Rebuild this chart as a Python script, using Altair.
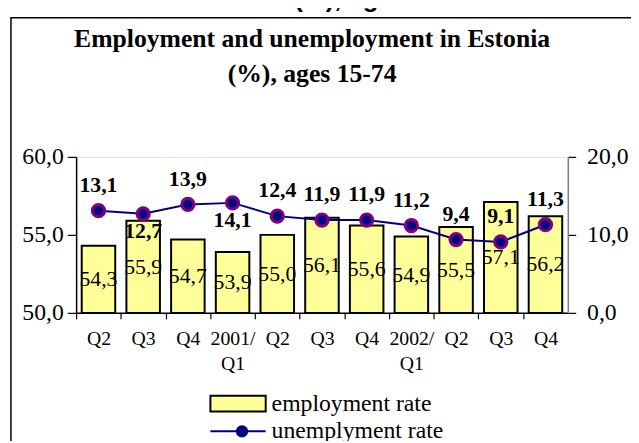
import altair as alt
import pandas as pd

# ---- data ----
quarter_labels = ["Q2", "Q3", "Q4", "2001/|Q1", "Q2", "Q3", "Q4", "2002/|Q1", "Q2", "Q3", "Q4"]
employment = [54.3, 55.9, 54.7, 53.9, 55.0, 56.1, 55.6, 54.9, 55.5, 57.1, 56.2]
unemployment = [13.1, 12.7, 13.9, 14.1, 12.4, 11.9, 11.9, 11.2, 9.4, 9.1, 11.3]
emp_name = "employment rate"
unemp_name = "unemplyment rate"
title_lines = ["Employment and unemployment in Estonia", "(%), ages 15-74"]
left_ticks = [50, 55, 60]
right_ticks = [0, 10, 20]
left_min = 50

df = pd.DataFrame({
    "i": list(range(len(quarter_labels))),
    "emp": employment,
    "unemp": unemployment,
    "emp_name": emp_name,
    "unemp_name": unemp_name,
    "marker_name": " ",
})
df["emp_lbl"] = [f"{v:.1f}".replace(".", ",") for v in employment]
df["unemp_lbl"] = [f"{v:.1f}".replace(".", ",") for v in unemployment]

SERIF = "Liberation Serif, Times New Roman, Times, serif"
SANS = "Liberation Sans, Arial, sans-serif"
W, H = 498, 158
step = W / len(quarter_labels)

label_arr = "[" + ",".join(f"'{s}'" for s in quarter_labels) + "]"

x_enc = alt.X(
    "i:O",
    scale=alt.Scale(paddingInner=0.25, paddingOuter=0.125),
    axis=alt.Axis(
        title=None, labelAngle=0, labelFont=SERIF, labelFontSize=20, labelColor="black",
        labelLineHeight=25, labelPadding=10, labelExpr=f"split({label_arr}[datum.value], '|')",
        tickOffset=-step / 2, labelOffset=step / 2, tickSize=6, tickColor="black", tickWidth=1.2,
        domainColor="black", domainWidth=1.5, grid=False,
    ),
)

fmt = "replace(format(datum.value, '.1f'), '.', ',')"

left_scale = alt.Scale(domain=[50, 60], zero=False, nice=False)
right_scale = alt.Scale(domain=[0, 20], zero=True, nice=False)

base = alt.Chart(df).encode(x=x_enc)

bars = base.mark_bar(stroke="black", strokeWidth=2).encode(
    y=alt.Y("emp:Q", scale=left_scale, axis=alt.Axis(
        title=None, values=left_ticks, labelExpr=fmt, labelFont=SERIF, labelFontSize=24,
        labelColor="black", tickSize=9, tickColor="black", tickWidth=1.2, labelPadding=4,
        domainColor="black", domainWidth=1.5, grid=False)),
    y2=alt.datum(left_min),
    fill=alt.Fill("emp_name:N", scale=alt.Scale(domain=[emp_name], range=["#ffff99"]),
                  legend=alt.Legend(title=None, orient="none", legendX=135, legendY=221,
                                    symbolType="M-1,-0.286H1V0.286H-1Z", symbolSize=3136,
                                    symbolStrokeColor="black", symbolStrokeWidth=2,
                                    labelFont=SERIF, labelFontSize=24, labelColor="black",
                                    labelLimit=0, labelOffset=5, padding=0)),
)

bar_text = base.mark_text(font=SERIF, fontSize=22, color="black", baseline="middle").encode(
    y=alt.Y("emp_mid:Q", scale=left_scale), text="emp_lbl:N"
).transform_calculate(emp_mid=f"(datum.emp + {left_min}) / 2")

left = alt.layer(bars, bar_text)

line = base.mark_line(strokeWidth=2).encode(
    y=alt.Y("unemp:Q", scale=right_scale, axis=alt.Axis(
        orient="right", title=None, values=right_ticks, labelExpr=fmt, labelFont=SERIF,
        labelFontSize=24, labelColor="black", tickSize=8, tickColor="black", tickWidth=1.2,
        labelPadding=11, domainColor="#808080", domainWidth=1.5, grid=False)),
    stroke=alt.Stroke("unemp_name:N", scale=alt.Scale(domain=[unemp_name], range=["#000080"]),
                      legend=alt.Legend(title=None, orient="none", legendX=135, legendY=249,
                                        symbolType="M-1,0H1", symbolSize=3136, symbolStrokeWidth=2,
                                        labelFont=SERIF, labelFontSize=24, labelColor="black",
                                        labelLimit=0, labelOffset=5, padding=0)),
)

points = base.mark_point(filled=True, fill="#000080", stroke="#800080", strokeWidth=3, size=155, opacity=1).encode(
    y=alt.Y("unemp:Q", scale=right_scale),
    shape=alt.Shape("marker_name:N", scale=alt.Scale(domain=[" "], range=["circle"]),
                    legend=alt.Legend(title="", orient="none", legendX=160, legendY=270,
                                      symbolFillColor="#000080", symbolStrokeColor="#800080",
                                      symbolStrokeWidth=3, symbolSize=155, symbolOpacity=1,
                                      labelFontSize=1, padding=0)),
)

above = base.mark_text(dy=-19, font=SERIF, fontSize=22, fontWeight="bold", color="black",
                       baseline="alphabetic").encode(
    y=alt.Y("unemp:Q", scale=right_scale), text="unemp_lbl:N"
).transform_filter("datum.i != 1 && datum.i != 3")

below = base.mark_text(dy=24, font=SERIF, fontSize=22, fontWeight="bold", color="black",
                       baseline="alphabetic").encode(
    y=alt.Y("unemp:Q", scale=right_scale), text="unemp_lbl:N"
).transform_filter("datum.i == 1 || datum.i == 3")

right = alt.layer(line, points, above, below)

one = alt.Data(values=[{"a": 1}])
frame = alt.Chart(one).mark_rect(fill="transparent", stroke="black", strokeWidth=1.5).encode(
    x=alt.value(-66), x2=alt.value(700), y=alt.value(-141), y2=alt.value(400)
)
title1 = alt.Chart(one).mark_text(font=SERIF, fontSize=26, fontWeight="bold", color="black",
                                  baseline="alphabetic", align="center").encode(
    x=alt.value(239), y=alt.value(-111), text=alt.value(title_lines[0]))
title2 = alt.Chart(one).mark_text(font=SERIF, fontSize=26, fontWeight="bold", color="black",
                                  baseline="alphabetic", align="center").encode(
    x=alt.value(239), y=alt.value(-76), text=alt.value(title_lines[1]))
topcut = alt.Chart(one).mark_text(font=SANS, fontSize=26, fontWeight="bold", color="black",
                                  baseline="alphabetic", align="left").encode(
    x=alt.value(221), y=alt.value(-152), text=alt.value(title_lines[1]))

chart = alt.layer(left, right, frame, title1, title2, topcut).resolve_scale(
    y="independent"
).properties(
    width=W, height=H,
    autosize=alt.AutoSizeParams(type="none"),
    padding={"left": 69, "top": 148, "right": 64, "bottom": 127},
).configure_view(stroke="#808080", strokeWidth=1.5).configure(background="white")

chart.save("out.html", embed_options={"renderer": "svg", "actions": False})
